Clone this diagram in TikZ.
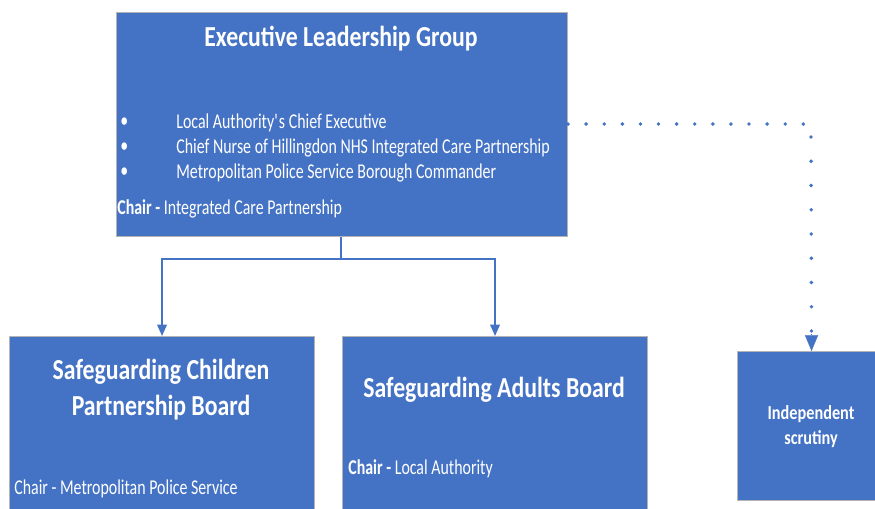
\documentclass[tikz,border=0pt]{standalone}
\usepackage{fontspec}
\setmainfont[FakeStretch=0.82]{Carlito}
\newfontfamily\bodyfont[FakeStretch=0.755]{Carlito}
\usetikzlibrary{arrows.meta,positioning}

\definecolor{boardblue}{HTML}{4472C4}
\definecolor{boardedge}{HTML}{B4B4B4}

\begin{document}
\begin{tikzpicture}[x=0.02cm, y=-0.02cm,
          board/.style={rectangle, draw=boardedge, line width=0.6pt,
              fill=boardblue, anchor=north west, inner sep=0pt},
          title/.style={text=white, font=\bfseries\fontsize{16.5}{20.5}\selectfont,
              align=center, inner sep=0pt},
          line/.style={text=white, font=\bodyfont\fontsize{12}{14.2}\selectfont,
              anchor=west, inner sep=0pt},
          small/.style={text=white, font=\bfseries\fontsize{11.3}{14.2}\selectfont,
              align=center, inner sep=0pt},
          arr/.style={-{Triangle[width=5.5pt,length=6.5pt]}, boardblue, line width=0.9pt},
          dotarr/.style={boardblue, line width=2.2pt, line cap=round,
              dash pattern=on 0pt off 10.3pt}
        ]
        \useasboundingbox (0,0) rectangle (875,508);
        % boxes
        \node[board, minimum width=451*0.02cm, minimum height=224*0.02cm] (elg) at (116,12) {};
        \node[board, minimum width=305*0.02cm, minimum height=190*0.02cm] (scpb) at (9,336) {};
        \node[board, minimum width=305*0.02cm, minimum height=190*0.02cm] (sab) at (342,336) {};
        \node[board, minimum width=148*0.02cm, minimum height=149*0.02cm] (indep) at (737,351) {};
        % texts
        \node[title] (elgtitle) at (341,39) {Executive Leadership Group};
        \node[line] (dot1) at (120,123) {•};
        \node[line] (dot2) at (120,148) {•};
        \node[line] (dot3) at (120,173) {•};
        \node[line] (mem1) at (176,123) {Local Authority\textquotesingle s Chief Executive};
        \node[line] (mem2) at (176,148) {Chief Nurse of Hillingdon NHS Integrated Care Partnership};
        \node[line] (mem3) at (176,173) {Metropolitan Police Service Borough Commander};
        \node[line] (elgchair) at (117,209) {\textbf{Chair -} Integrated Care Partnership};
        \node[title] (scpbtitle) at (161,390) {Safeguarding Children\\Partnership Board};
        \node[line] (scpbchair) at (14,489) {Chair - Metropolitan Police Service};
        \node[title] (sabtitle) at (494,390) {Safeguarding Adults Board};
        \node[line] (sabchair) at (348,469) {\textbf{Chair -} Local Authority};
        \node[small] (indeptext) at (811,427) {Independent\\scrutiny};
        % connectors
        \coordinate (split) at (341,259);
        \draw[arr] (elg.south -| split) -- (split) -| (scpb.north);
        \draw[arr] (split) -| (sab.north);
        \coordinate (turn) at (811,124);
        \draw[dotarr] (elg.east |- turn) -- ([xshift=-6*0.02cm]turn);
        \draw[dotarr, dash pattern=on 0pt off 13.8pt]
          ([yshift=-13*0.02cm]turn) -- ([yshift=16*0.02cm]indep.north);
        \draw[-{Triangle[width=7.5pt,length=9pt]}, boardblue, line width=0.1pt]
          ([yshift=17*0.02cm]indep.north) -- (indep.north);
      \end{tikzpicture}
\end{document}
